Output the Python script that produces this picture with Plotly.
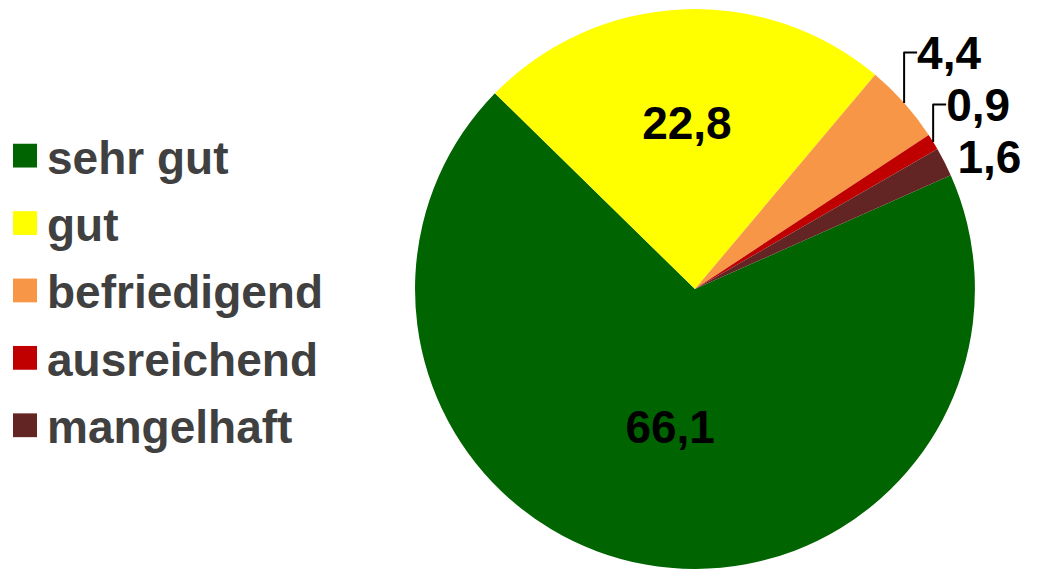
import plotly.graph_objects as go

# ---- data ----
categories = ["sehr gut", "gut", "befriedigend", "ausreichend", "mangelhaft"]
values = [66.1, 22.8, 4.4, 0.9, 1.6]
colors = ["#006400", "#FFFF00", "#F79646", "#C00000", "#632523"]
text_positions = ["inside", "inside", "outside", "outside", "outside"]

W, H = 1041, 574
FONT = "Liberation Sans, Arial, sans-serif"

fig = go.Figure()
fig.add_trace(go.Pie(
    labels=categories,
    values=values,
    sort=False,
    direction="clockwise",
    rotation=66,
    marker=dict(colors=colors, line=dict(width=0)),
    texttemplate="<b>%{value:.1f}</b>",
    textposition=text_positions,
    insidetextorientation="horizontal",
    textfont=dict(family=FONT, size=46, color="black"),
    outsidetextfont=dict(family=FONT, size=46, color="black"),
    insidetextfont=dict(family=FONT, size=46, color="black"),
    domain=dict(x=[0.3963, 0.9389], y=[0.0, 0.984]),
    showlegend=False,
    hoverinfo="label+value",
))

# custom legend (large swatches like the original)
sw = 24
for i, (lab, col) in enumerate(zip(categories, colors)):
    yc = 157 + i * 68
    fig.add_shape(type="rect", xref="paper", yref="paper",
                  x0=13 / W, x1=(13 + sw) / W,
                  y0=1 - (yc + sw / 2) / H, y1=1 - (yc - sw / 2) / H,
                  fillcolor=col, line=dict(width=0))
    fig.add_annotation(xref="paper", yref="paper", x=45 / W, y=1 - (yc + 2) / H,
                       xanchor="left", yanchor="middle", showarrow=False,
                       text="<b>" + lab + "</b>",
                       font=dict(family=FONT, size=46, color="#404040"))

fig.update_layout(
    width=W, height=H,
    margin=dict(l=0, r=0, t=0, b=0),
    paper_bgcolor="white",
    plot_bgcolor="white",
    separators=",.",
    showlegend=False,
)

fig.write_html("out.html", config={"displayModeBar": False},
               post_script="document.body.style.margin='0';")
